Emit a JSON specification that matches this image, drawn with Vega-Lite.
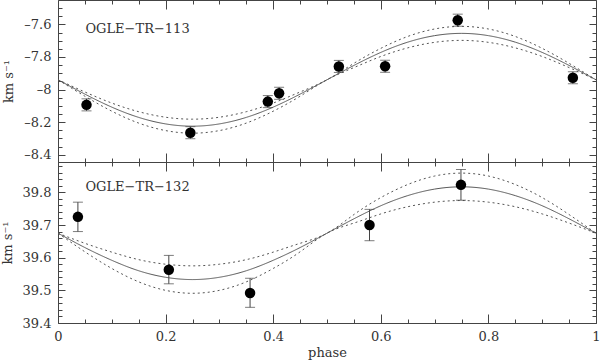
{
  "$schema": "https://vega.github.io/schema/vega-lite/v6.json",
  "padding": {"left": 0, "top": -1, "right": 0, "bottom": 0},
  "spacing": 0,
  "bounds": "flush",
  "config": {
    "view": {"stroke": "#444", "strokeWidth": 1},
    "axis": {"grid": false, "domain": false, "tickColor": "#444", "minExtent": 0, "labelFont": "DejaVu Serif", "labelFontSize": 13, "labelColor": "#333", "titleFont": "DejaVu Serif", "titleFontSize": 13, "titleFontWeight": "normal", "titleColor": "#333", "labelFlush": false, "labelOverlap": false}
  },
  "datasets": {
    "c113": [
      {"p":0,"v":-7.940,"c":"fit"},{"p":0.05,"v":-8.028,"c":"fit"},{"p":0.1,"v":-8.108,"c":"fit"},{"p":0.15,"v":-8.171,"c":"fit"},{"p":0.2,"v":-8.211,"c":"fit"},{"p":0.25,"v":-8.225,"c":"fit"},{"p":0.3,"v":-8.211,"c":"fit"},{"p":0.35,"v":-8.171,"c":"fit"},{"p":0.4,"v":-8.108,"c":"fit"},{"p":0.45,"v":-8.028,"c":"fit"},{"p":0.5,"v":-7.940,"c":"fit"},{"p":0.55,"v":-7.852,"c":"fit"},{"p":0.6,"v":-7.772,"c":"fit"},{"p":0.65,"v":-7.709,"c":"fit"},{"p":0.7,"v":-7.669,"c":"fit"},{"p":0.75,"v":-7.655,"c":"fit"},{"p":0.8,"v":-7.669,"c":"fit"},{"p":0.85,"v":-7.709,"c":"fit"},{"p":0.9,"v":-7.772,"c":"fit"},{"p":0.95,"v":-7.852,"c":"fit"},{"p":1,"v":-7.940,"c":"fit"},
      {"p":0,"v":-7.940,"c":"upper"},{"p":0.05,"v":-8.015,"c":"upper"},{"p":0.1,"v":-8.083,"c":"upper"},{"p":0.15,"v":-8.136,"c":"upper"},{"p":0.2,"v":-8.170,"c":"upper"},{"p":0.25,"v":-8.182,"c":"upper"},{"p":0.3,"v":-8.170,"c":"upper"},{"p":0.35,"v":-8.136,"c":"upper"},{"p":0.4,"v":-8.083,"c":"upper"},{"p":0.45,"v":-8.015,"c":"upper"},{"p":0.5,"v":-7.940,"c":"upper"},{"p":0.55,"v":-7.839,"c":"upper"},{"p":0.6,"v":-7.747,"c":"upper"},{"p":0.65,"v":-7.674,"c":"upper"},{"p":0.7,"v":-7.628,"c":"upper"},{"p":0.75,"v":-7.612,"c":"upper"},{"p":0.8,"v":-7.628,"c":"upper"},{"p":0.85,"v":-7.674,"c":"upper"},{"p":0.9,"v":-7.747,"c":"upper"},{"p":0.95,"v":-7.839,"c":"upper"},{"p":1,"v":-7.940,"c":"upper"},
      {"p":0,"v":-7.940,"c":"lower"},{"p":0.05,"v":-8.041,"c":"lower"},{"p":0.1,"v":-8.133,"c":"lower"},{"p":0.15,"v":-8.206,"c":"lower"},{"p":0.2,"v":-8.252,"c":"lower"},{"p":0.25,"v":-8.268,"c":"lower"},{"p":0.3,"v":-8.252,"c":"lower"},{"p":0.35,"v":-8.206,"c":"lower"},{"p":0.4,"v":-8.133,"c":"lower"},{"p":0.45,"v":-8.041,"c":"lower"},{"p":0.5,"v":-7.940,"c":"lower"},{"p":0.55,"v":-7.865,"c":"lower"},{"p":0.6,"v":-7.797,"c":"lower"},{"p":0.65,"v":-7.744,"c":"lower"},{"p":0.7,"v":-7.710,"c":"lower"},{"p":0.75,"v":-7.698,"c":"lower"},{"p":0.8,"v":-7.710,"c":"lower"},{"p":0.85,"v":-7.744,"c":"lower"},{"p":0.9,"v":-7.797,"c":"lower"},{"p":0.95,"v":-7.865,"c":"lower"},{"p":1,"v":-7.940,"c":"lower"}
    ],
    "p113": [
      {"p":0.053,"v":-8.094,"lo":-8.131,"hi":-8.057},
      {"p":0.246,"v":-8.265,"lo":-8.302,"hi":-8.228},
      {"p":0.390,"v":-8.074,"lo":-8.111,"hi":-8.037},
      {"p":0.411,"v":-8.023,"lo":-8.060,"hi":-7.986},
      {"p":0.522,"v":-7.858,"lo":-7.895,"hi":-7.821},
      {"p":0.608,"v":-7.857,"lo":-7.894,"hi":-7.820},
      {"p":0.743,"v":-7.574,"lo":-7.611,"hi":-7.537},
      {"p":0.957,"v":-7.928,"lo":-7.965,"hi":-7.891}
    ],
    "c132": [
      {"p":0,"v":39.675,"c":"fit"},{"p":0.05,"v":39.631,"c":"fit"},{"p":0.1,"v":39.592,"c":"fit"},{"p":0.15,"v":39.560,"c":"fit"},{"p":0.2,"v":39.540,"c":"fit"},{"p":0.25,"v":39.533,"c":"fit"},{"p":0.3,"v":39.540,"c":"fit"},{"p":0.35,"v":39.560,"c":"fit"},{"p":0.4,"v":39.592,"c":"fit"},{"p":0.45,"v":39.631,"c":"fit"},{"p":0.5,"v":39.675,"c":"fit"},{"p":0.55,"v":39.719,"c":"fit"},{"p":0.6,"v":39.759,"c":"fit"},{"p":0.65,"v":39.790,"c":"fit"},{"p":0.7,"v":39.810,"c":"fit"},{"p":0.75,"v":39.817,"c":"fit"},{"p":0.8,"v":39.810,"c":"fit"},{"p":0.85,"v":39.790,"c":"fit"},{"p":0.9,"v":39.759,"c":"fit"},{"p":0.95,"v":39.719,"c":"fit"},{"p":1,"v":39.675,"c":"fit"},
      {"p":0,"v":39.675,"c":"upper"},{"p":0.05,"v":39.644,"c":"upper"},{"p":0.1,"v":39.617,"c":"upper"},{"p":0.15,"v":39.594,"c":"upper"},{"p":0.2,"v":39.580,"c":"upper"},{"p":0.25,"v":39.575,"c":"upper"},{"p":0.3,"v":39.580,"c":"upper"},{"p":0.35,"v":39.594,"c":"upper"},{"p":0.4,"v":39.617,"c":"upper"},{"p":0.45,"v":39.644,"c":"upper"},{"p":0.5,"v":39.675,"c":"upper"},{"p":0.55,"v":39.732,"c":"upper"},{"p":0.6,"v":39.784,"c":"upper"},{"p":0.65,"v":39.824,"c":"upper"},{"p":0.7,"v":39.850,"c":"upper"},{"p":0.75,"v":39.859,"c":"upper"},{"p":0.8,"v":39.850,"c":"upper"},{"p":0.85,"v":39.824,"c":"upper"},{"p":0.9,"v":39.784,"c":"upper"},{"p":0.95,"v":39.732,"c":"upper"},{"p":1,"v":39.675,"c":"upper"},
      {"p":0,"v":39.675,"c":"lower"},{"p":0.05,"v":39.618,"c":"lower"},{"p":0.1,"v":39.567,"c":"lower"},{"p":0.15,"v":39.526,"c":"lower"},{"p":0.2,"v":39.500,"c":"lower"},{"p":0.25,"v":39.491,"c":"lower"},{"p":0.3,"v":39.500,"c":"lower"},{"p":0.35,"v":39.526,"c":"lower"},{"p":0.4,"v":39.567,"c":"lower"},{"p":0.45,"v":39.618,"c":"lower"},{"p":0.5,"v":39.675,"c":"lower"},{"p":0.55,"v":39.706,"c":"lower"},{"p":0.6,"v":39.734,"c":"lower"},{"p":0.65,"v":39.756,"c":"lower"},{"p":0.7,"v":39.770,"c":"lower"},{"p":0.75,"v":39.775,"c":"lower"},{"p":0.8,"v":39.770,"c":"lower"},{"p":0.85,"v":39.756,"c":"lower"},{"p":0.9,"v":39.734,"c":"lower"},{"p":0.95,"v":39.706,"c":"lower"},{"p":1,"v":39.675,"c":"lower"}
    ],
    "p132": [
      {"p":0.037,"v":39.725,"lo":39.680,"hi":39.770},
      {"p":0.206,"v":39.563,"lo":39.520,"hi":39.607},
      {"p":0.357,"v":39.492,"lo":39.448,"hi":39.537},
      {"p":0.579,"v":39.700,"lo":39.652,"hi":39.748},
      {"p":0.749,"v":39.823,"lo":39.776,"hi":39.870}
    ],
    "one": [{}]
  },
  "vconcat": [
    {
      "width": 538, "height": 162,
      "resolve": {"axis": {"x": "independent", "y": "independent"}},
      "layer": [
        {
          "data": {"name": "c113"},
          "mark": {"type": "line", "interpolate": "natural", "strokeWidth": 1, "color": "#555"},
          "encoding": {
            "x": {"field": "p", "type": "quantitative", "scale": {"domain": [0, 1], "nice": false, "zero": false},
                  "axis": {"orient": "bottom", "values": [0,0.2,0.4,0.6,0.8,1], "tickSize": -9, "labels": false, "title": null, "maxExtent": 0}},
            "y": {"field": "v", "type": "quantitative", "scale": {"domain": [-8.445, -7.45], "nice": false, "zero": false},
                  "axis": {"orient": "left", "values": [-8.4,-8.2,-8,-7.8,-7.6], "tickSize": -7, "labelPadding": 14, "format": "~g", "labelExpr": "replace(datum.label, '−', '–')", "title": "km s⁻¹", "titlePadding": 8}},
            "strokeDash": {"field": "c", "type": "nominal", "scale": {"domain": ["fit","upper","lower"], "range": [[1,0],[2,3],[2,3]]}, "legend": null}
          }
        },
        {
          "data": {"name": "p113"},
          "mark": {"type": "rule", "color": "#444", "strokeWidth": 1},
          "encoding": {
            "x": {"field": "p", "type": "quantitative", "scale": {"domain": [0, 1], "nice": false, "zero": false},
                  "axis": {"orient": "bottom", "values": [0.05,0.1,0.15,0.25,0.3,0.35,0.45,0.5,0.55,0.65,0.7,0.75,0.85,0.9,0.95], "tickSize": -4, "labels": false, "title": null, "maxExtent": 0}},
            "y": {"field": "lo", "type": "quantitative", "scale": {"domain": [-8.445, -7.45], "nice": false, "zero": false},
                  "axis": {"orient": "left", "values": [-8.35,-8.3,-8.25,-8.15,-8.1,-8.05,-7.95,-7.9,-7.85,-7.75,-7.7,-7.65,-7.55,-7.5], "tickSize": -4, "labels": false, "title": null, "maxExtent": 0}},
            "y2": {"field": "hi"}
          }
        },
        {
          "data": {"name": "p113"},
          "mark": {"type": "tick", "orient": "horizontal", "size": 10, "thickness": 1, "color": "#444"},
          "encoding": {
            "x": {"field": "p", "type": "quantitative", "scale": {"domain": [0, 1], "nice": false, "zero": false},
                  "axis": {"orient": "top", "values": [0,0.2,0.4,0.6,0.8,1], "tickSize": -9, "labels": false, "title": null, "maxExtent": 0}},
            "y": {"field": "lo", "type": "quantitative", "scale": {"domain": [-8.445, -7.45], "nice": false, "zero": false},
                  "axis": {"orient": "right", "values": [-8.4,-8.2,-8,-7.8,-7.6], "tickSize": -7, "labels": false, "title": null, "maxExtent": 0}}
          }
        },
        {
          "data": {"name": "p113"},
          "mark": {"type": "tick", "orient": "horizontal", "size": 10, "thickness": 1, "color": "#444"},
          "encoding": {
            "x": {"field": "p", "type": "quantitative", "scale": {"domain": [0, 1], "nice": false, "zero": false},
                  "axis": {"orient": "top", "values": [0.05,0.1,0.15,0.25,0.3,0.35,0.45,0.5,0.55,0.65,0.7,0.75,0.85,0.9,0.95], "tickSize": -4, "labels": false, "title": null, "maxExtent": 0}},
            "y": {"field": "hi", "type": "quantitative", "scale": {"domain": [-8.445, -7.45], "nice": false, "zero": false},
                  "axis": {"orient": "right", "values": [-8.35,-8.3,-8.25,-8.15,-8.1,-8.05,-7.95,-7.9,-7.85,-7.75,-7.7,-7.65,-7.55,-7.5], "tickSize": -4, "labels": false, "title": null, "maxExtent": 0}}
          }
        },
        {
          "data": {"name": "p113"},
          "mark": {"type": "point", "filled": true, "color": "#000", "opacity": 1, "size": 110},
          "encoding": {
            "x": {"field": "p", "type": "quantitative", "scale": {"domain": [0, 1], "nice": false, "zero": false}, "axis": null},
            "y": {"field": "v", "type": "quantitative", "scale": {"domain": [-8.445, -7.45], "nice": false, "zero": false}, "axis": null}
          }
        },
        {
          "data": {"name": "one"},
          "mark": {"type": "text", "align": "left", "baseline": "middle", "font": "DejaVu Serif", "fontSize": 13, "color": "#333"},
          "encoding": {
            "x": {"datum": 0.051, "type": "quantitative", "scale": {"domain": [0, 1], "nice": false, "zero": false}, "axis": null},
            "y": {"datum": -7.63, "type": "quantitative", "scale": {"domain": [-8.445, -7.45], "nice": false, "zero": false}, "axis": null},
            "text": {"value": "OGLE−TR−113"}
          }
        }
      ]
    },
    {
      "width": 538, "height": 161,
      "resolve": {"axis": {"x": "independent", "y": "independent"}},
      "layer": [
        {
          "data": {"name": "c132"},
          "mark": {"type": "line", "interpolate": "natural", "strokeWidth": 1, "color": "#555"},
          "encoding": {
            "x": {"field": "p", "type": "quantitative", "scale": {"domain": [0, 1], "nice": false, "zero": false},
                  "axis": {"orient": "bottom", "values": [0,0.2,0.4,0.6,0.8,1], "tickSize": -9, "labelPadding": 16, "format": "~g", "title": "phase", "titlePadding": 3}},
            "y": {"field": "v", "type": "quantitative", "scale": {"domain": [39.4, 39.893], "nice": false, "zero": false},
                  "axis": {"orient": "left", "values": [39.4,39.5,39.6,39.7,39.8], "tickSize": -7, "labelPadding": 14, "format": "~g", "title": "km s⁻¹", "titlePadding": 8}},
            "strokeDash": {"field": "c", "type": "nominal", "scale": {"domain": ["fit","upper","lower"], "range": [[1,0],[2,3],[2,3]]}, "legend": null}
          }
        },
        {
          "data": {"name": "p132"},
          "mark": {"type": "rule", "color": "#444", "strokeWidth": 1},
          "encoding": {
            "x": {"field": "p", "type": "quantitative", "scale": {"domain": [0, 1], "nice": false, "zero": false},
                  "axis": {"orient": "bottom", "values": [0.05,0.1,0.15,0.25,0.3,0.35,0.45,0.5,0.55,0.65,0.7,0.75,0.85,0.9,0.95], "tickSize": -4, "labels": false, "title": null, "maxExtent": 0}},
            "y": {"field": "lo", "type": "quantitative", "scale": {"domain": [39.4, 39.893], "nice": false, "zero": false},
                  "axis": {"orient": "left", "values": [39.42,39.44,39.46,39.48,39.52,39.54,39.56,39.58,39.62,39.64,39.66,39.68,39.72,39.74,39.76,39.78,39.82,39.84,39.86,39.88], "tickSize": -4, "labels": false, "title": null, "maxExtent": 0}},
            "y2": {"field": "hi"}
          }
        },
        {
          "data": {"name": "p132"},
          "mark": {"type": "tick", "orient": "horizontal", "size": 10, "thickness": 1, "color": "#444"},
          "encoding": {
            "x": {"field": "p", "type": "quantitative", "scale": {"domain": [0, 1], "nice": false, "zero": false},
                  "axis": {"orient": "top", "values": [0,0.2,0.4,0.6,0.8,1], "tickSize": -9, "labels": false, "title": null, "maxExtent": 0}},
            "y": {"field": "lo", "type": "quantitative", "scale": {"domain": [39.4, 39.893], "nice": false, "zero": false},
                  "axis": {"orient": "right", "values": [39.4,39.5,39.6,39.7,39.8], "tickSize": -7, "labels": false, "title": null, "maxExtent": 0}}
          }
        },
        {
          "data": {"name": "p132"},
          "mark": {"type": "tick", "orient": "horizontal", "size": 10, "thickness": 1, "color": "#444"},
          "encoding": {
            "x": {"field": "p", "type": "quantitative", "scale": {"domain": [0, 1], "nice": false, "zero": false},
                  "axis": {"orient": "top", "values": [0.05,0.1,0.15,0.25,0.3,0.35,0.45,0.5,0.55,0.65,0.7,0.75,0.85,0.9,0.95], "tickSize": -4, "labels": false, "title": null, "maxExtent": 0}},
            "y": {"field": "hi", "type": "quantitative", "scale": {"domain": [39.4, 39.893], "nice": false, "zero": false},
                  "axis": {"orient": "right", "values": [39.42,39.44,39.46,39.48,39.52,39.54,39.56,39.58,39.62,39.64,39.66,39.68,39.72,39.74,39.76,39.78,39.82,39.84,39.86,39.88], "tickSize": -4, "labels": false, "title": null, "maxExtent": 0}}
          }
        },
        {
          "data": {"name": "p132"},
          "mark": {"type": "point", "filled": true, "color": "#000", "opacity": 1, "size": 110},
          "encoding": {
            "x": {"field": "p", "type": "quantitative", "scale": {"domain": [0, 1], "nice": false, "zero": false}, "axis": null},
            "y": {"field": "v", "type": "quantitative", "scale": {"domain": [39.4, 39.893], "nice": false, "zero": false}, "axis": null}
          }
        },
        {
          "data": {"name": "one"},
          "mark": {"type": "text", "align": "left", "baseline": "middle", "font": "DejaVu Serif", "fontSize": 13, "color": "#333"},
          "encoding": {
            "x": {"datum": 0.051, "type": "quantitative", "scale": {"domain": [0, 1], "nice": false, "zero": false}, "axis": null},
            "y": {"datum": 39.815, "type": "quantitative", "scale": {"domain": [39.4, 39.893], "nice": false, "zero": false}, "axis": null},
            "text": {"value": "OGLE−TR−132"}
          }
        }
      ]
    }
  ]
}
